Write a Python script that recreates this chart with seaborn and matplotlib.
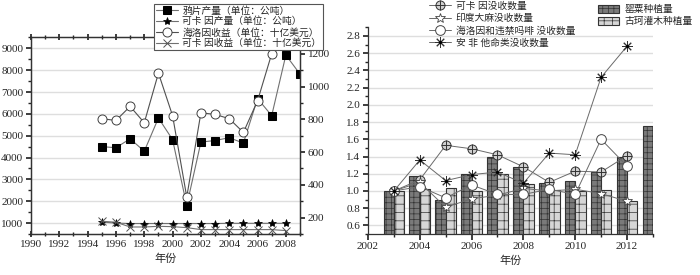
import numpy as np
import pandas as pd
import matplotlib
matplotlib.use('Agg')
import matplotlib.pyplot as plt
import seaborn as sns
from matplotlib.patches import Patch
from matplotlib.ticker import MultipleLocator

sns.set_theme(style='ticks')
plt.rcParams['font.family'] = ['Liberation Serif', 'Noto Sans CJK SC']
plt.rcParams['axes.unicode_minus'] = False
plt.rcParams['hatch.linewidth'] = 0.5

# ---------------- left panel data ----------------
opium_years = [1995, 1996, 1997, 1998, 1999, 2000, 2001, 2002, 2003, 2004, 2005, 2006, 2007, 2008, 2009]
opium_prod = [4500, 4450, 4860, 4290, 5810, 4820, 1800, 4710, 4780, 4910, 4660, 6700, 5920, 8690, 7820]
coca_years = [1995, 1996, 1997, 1998, 1999, 2000, 2001, 2002, 2003, 2004, 2005, 2006, 2007, 2008]
coca_prod = [1050, 1000, 980, 980, 980, 980, 980, 980, 980, 990, 990, 990, 990, 990]
heroin_years = [1995, 1996, 1997, 1998, 1999, 2000, 2001, 2002, 2003, 2004, 2005, 2006, 2007]
heroin_rev = [804, 793, 879, 779, 1082, 822, 326, 840, 830, 804, 720, 913, 1200]
coca_rev = [178, 172, 143, 143, 147, 145, 139, 127, 127, 127, 127, 127, 127, 121]
left_labels = ['鸦片产量（单位：公吨）', '可卡 因产量（单位：公吨）',
               '海洛因收益（单位：十亿美元）', '可卡 因收益（单位：十亿美元）']
left_xticks = list(range(1990, 2009, 2))
left_yticks = [1000, 2000, 3000, 4000, 5000, 6000, 7000, 8000, 9000]
right_yticks_l = [200, 400, 600, 800, 1000, 1200]

# ---------------- right panel data ----------------
seiz_years = [2003, 2004, 2005, 2006, 2007, 2008, 2009, 2010, 2011, 2012]
cocaine_seiz = [1.0, 1.13, 1.53, 1.49, 1.42, 1.28, 1.10, 1.23, 1.22, 1.41]
cannabis_seiz = [1.0, 1.10, 0.81, 0.91, 0.95, 1.03, 1.00, 1.02, 0.97, 0.88]
heroin_seiz = [1.0, 1.05, 0.92, 1.07, 0.96, 0.96, 1.02, 0.96, 1.60, 1.29]
amph_seiz = [1.0, 1.36, 1.12, 1.19, 1.22, 1.09, 1.44, 1.42, 2.32, 2.68]
poppy_years = [2003, 2004, 2005, 2006, 2007, 2008, 2009, 2010, 2011, 2012, 2013]
poppy_area = [1.0, 1.17, 0.90, 1.20, 1.40, 1.28, 1.09, 1.11, 1.22, 1.40, 1.76]
cocabush_years = [2003, 2004, 2005, 2006, 2007, 2008, 2009, 2010, 2011, 2012]
cocabush_area = [1.0, 1.02, 1.04, 1.0, 1.20, 1.08, 1.01, 1.0, 1.01, 0.88]
line_labels = ['可卡 因没收数量', '印度大麻没收数量', '海洛因和违禁吗啡 没收数量', '安 非 他命类没收数量']
bar_labels = ['罂粟种植量', '古珂灌木种植量']
right_xticks = [2002, 2004, 2006, 2008, 2010, 2012]
right_yticks = [0.6, 0.8, 1.0, 1.2, 1.4, 1.6, 1.8, 2.0, 2.2, 2.4, 2.6, 2.8]

fig = plt.figure(figsize=(7, 2.75), dpi=100)
ax1 = fig.add_axes([0.0443, 0.149, 0.3843, 0.715])
ax1b = ax1.twinx()
ax2 = fig.add_axes([0.5257, 0.149, 0.407, 0.7516])

lc = '#707070'
FS = 8

# ---- left panel ----
sns.lineplot(x=opium_years, y=opium_prod, ax=ax1, color=lc, linewidth=0.8,
             marker='s', markersize=5.5, markerfacecolor='black', markeredgecolor='black')
h_op = ax1.lines[-1]
sns.lineplot(x=coca_years, y=coca_prod, ax=ax1, color=lc, linewidth=0.8,
             marker='*', markersize=6, markerfacecolor='black', markeredgecolor='black', markeredgewidth=0.5)
h_cp = ax1.lines[-1]
sns.lineplot(x=heroin_years, y=heroin_rev, ax=ax1b, color='#505050', linewidth=0.8,
             marker='o', markersize=6.5, markerfacecolor='white', markeredgecolor='#404040', markeredgewidth=0.7)
h_hr = ax1b.lines[-1]
sns.lineplot(x=coca_years, y=coca_rev, ax=ax1b, color=lc, linewidth=0.8,
             marker='x', markersize=6, markerfacecolor='none', markeredgecolor='#505050', markeredgewidth=0.7)
h_cr = ax1b.lines[-1]

ax1.set_xlim(1990, 2009)
ax1.set_ylim(500, 9500)
ax1b.set_ylim(100, 1300)
ax1.set_xticks(left_xticks)
ax1.xaxis.set_minor_locator(MultipleLocator(1))
ax1.set_yticks(left_yticks)
ax1.yaxis.set_minor_locator(MultipleLocator(500))
ax1b.set_yticks(right_yticks_l)
ax1b.yaxis.set_minor_locator(MultipleLocator(100))
ax1.grid(axis='y', color='#dedede', linewidth=1.0)
ax1.set_axisbelow(True)
ax1.tick_params(axis='x', which='both', top=True, direction='inout', labelsize=FS, pad=2)
ax1.tick_params(axis='x', which='major', length=5)
ax1.tick_params(axis='x', which='minor', length=3)
ax1.tick_params(axis='y', which='major', direction='out', length=3.5, labelsize=FS, pad=2)
ax1.tick_params(axis='y', which='minor', direction='out', length=2)
ax1b.tick_params(axis='y', which='major', direction='out', length=3.5, labelsize=FS, pad=2)
ax1b.tick_params(axis='y', which='minor', direction='out', length=2)
for a in (ax1, ax1b):
    for s in a.spines.values():
        s.set_color('#333333')
        s.set_linewidth(0.9)
ax1.set_xlabel('年份', fontsize=FS, labelpad=3)
ax1.set_ylabel('')
ax1b.set_ylabel('')

leg1 = fig.legend([h_op, h_cp, h_hr, h_cr], left_labels, loc='upper left',
                  bbox_to_anchor=(0.22, 0.985), fontsize=7, frameon=True, fancybox=False,
                  framealpha=1, edgecolor='#555555', borderpad=0.2, labelspacing=0.12,
                  handlelength=2.3, handletextpad=0.4, borderaxespad=0)
leg1.get_frame().set_linewidth(0.8)

# ---- right panel ----
bar_df = pd.DataFrame({
    'year': poppy_years + cocabush_years,
    'value': poppy_area + cocabush_area,
    'kind': [bar_labels[0]] * len(poppy_years) + [bar_labels[1]] * len(cocabush_years),
})
bar_face = ['#7a7a7a', '#d6d6d6']
bar_hatchcol = ['#5e5e5e', '#b4b4b4']
bar_hatch = ['+++', '++']
sns.barplot(data=bar_df, x='year', y='value', hue='kind', hue_order=bar_labels,
            native_scale=True, width=0.8, dodge=True, errorbar=None, legend=False,
            palette=bar_face, ax=ax2, saturation=1)


def style_bar(p, i):
    p.set_facecolor(bar_face[i])
    p.set_linewidth(0.8)
    if hasattr(p, 'set_hatchcolor'):
        p.set_edgecolor('#333333')
        p.set_hatch(bar_hatch[i])
        p.set_hatchcolor(bar_hatchcol[i])
    else:
        p.set_edgecolor('#333333')
        p.set_hatch(bar_hatch[i])


for i, cont in enumerate(ax2.containers):
    for p in cont:
        style_bar(p, i)

lw2 = 0.7
lc2 = '#6a6a6a'
sns.lineplot(x=seiz_years, y=cocaine_seiz, ax=ax2, color=lc2, linewidth=lw2,
             marker='o', markersize=6.5, markerfacecolor='#cfcfcf', markeredgecolor='#333333', markeredgewidth=0.7)
h_c1 = ax2.lines[-1]
sns.lineplot(x=seiz_years, y=cocaine_seiz, ax=ax2, color=lc2, linewidth=0,
             marker='+', markersize=6.5, markeredgecolor='#333333', markeredgewidth=0.7)
h_c2 = ax2.lines[-1]
sns.lineplot(x=seiz_years, y=cannabis_seiz, ax=ax2, color=lc2, linewidth=lw2,
             marker='*', markersize=7, markerfacecolor='white', markeredgecolor='#444444', markeredgewidth=0.6)
h_cb = ax2.lines[-1]
sns.lineplot(x=seiz_years, y=heroin_seiz, ax=ax2, color=lc2, linewidth=lw2,
             marker='o', markersize=7, markerfacecolor='white', markeredgecolor='#444444', markeredgewidth=0.7)
h_hs = ax2.lines[-1]
sns.lineplot(x=seiz_years, y=amph_seiz, ax=ax2, color=lc2, linewidth=lw2,
             marker=(8, 2, 0), markersize=7.5, markeredgecolor='#333333', markeredgewidth=0.7)
h_a1 = ax2.lines[-1]
sns.lineplot(x=seiz_years, y=amph_seiz, ax=ax2, color=lc2, linewidth=0,
             marker='o', markersize=2.2, markerfacecolor='black', markeredgecolor='black', markeredgewidth=0)
h_a2 = ax2.lines[-1]

ax2.set_xlim(2002, 2013)
ax2.set_ylim(0.5, 2.9)
ax2.set_xticks(right_xticks)
ax2.set_xticklabels([str(v) for v in right_xticks])
ax2.xaxis.set_minor_locator(MultipleLocator(1))
ax2.set_yticks(right_yticks)
ax2.set_yticklabels([f'{v:.1f}' for v in right_yticks])
ax2.yaxis.set_minor_locator(MultipleLocator(0.1))
ax2.grid(axis='y', color='#dedede', linewidth=1.0)
ax2.set_axisbelow(True)
sns.despine(ax=ax2)
for s in ('left', 'bottom'):
    ax2.spines[s].set_color('#333333')
    ax2.spines[s].set_linewidth(0.9)
ax2.tick_params(axis='x', which='major', direction='out', length=4, labelsize=FS, pad=2)
ax2.tick_params(axis='x', which='minor', direction='out', length=2.5)
ax2.tick_params(axis='y', which='major', direction='out', length=3.5, labelsize=FS, pad=2)
ax2.tick_params(axis='y', which='minor', direction='out', length=2)
ax2.set_xlabel('年份', fontsize=FS, labelpad=3)
ax2.set_ylabel('')

fig.legend([(h_c1, h_c2), h_cb, h_hs, (h_a1, h_a2)], line_labels, loc='upper left',
           bbox_to_anchor=(0.612, 0.998), fontsize=7, frameon=False, labelspacing=0.3,
           handlelength=2.2, handletextpad=0.5, borderaxespad=0, borderpad=0.1)
bar_handles = []
for i in range(2):
    ph = Patch(facecolor=bar_face[i], edgecolor='#333333', hatch=bar_hatch[i], linewidth=0.8)
    if hasattr(ph, 'set_hatchcolor'):
        ph.set_hatchcolor(bar_hatchcol[i])
    bar_handles.append(ph)
fig.legend(bar_handles, bar_labels, loc='upper left', bbox_to_anchor=(0.853, 0.985),
           fontsize=7, frameon=False, labelspacing=0.25, handlelength=2.2, handleheight=0.9,
           handletextpad=0.5, borderaxespad=0, borderpad=0.1)

fig.savefig('out.png', dpi=100)
